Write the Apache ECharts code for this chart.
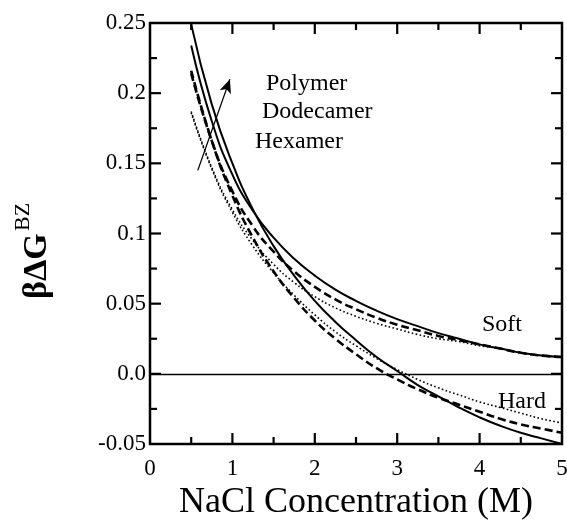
<!DOCTYPE html>
<html>
<head>
	<meta charset="utf-8">
	<title>NaCl chart</title>
	<style>
		html,body{margin:0;padding:0;background:#fff;}
		#main{width:567px;height:525px;}
	</style>
</head>
<body>
	<div id="main"></div>
</body>
<script type="text/javascript" src="https://cdn.jsdelivr.net/npm/echarts@6/dist/echarts.min.js"></script>
<script type="text/javascript">
	// NaCl concentration (M)
	var conc = [0.5,0.75,1,1.25,1.5,1.75,2,2.25,2.5,2.75,3,3.25,3.5,3.75,4,4.25,4.5,4.75,5];
	// soft potential
	var softPolymer   = [0.234,0.180,0.142,0.116,0.097,0.082,0.070,0.060,0.052,0.045,0.039,0.034,0.029,0.025,0.021,0.018,0.015,0.013,0.012];
	var softDodecamer = [0.214,0.166,0.130,0.105,0.087,0.073,0.062,0.053,0.046,0.040,0.035,0.031,0.027,0.024,0.021,0.018,0.015,0.013,0.012];
	var softHexamer   = [0.187,0.147,0.117,0.095,0.078,0.065,0.055,0.047,0.041,0.036,0.032,0.028,0.025,0.023,0.020,0.018,0.015,0.013,0.012];
	// hard potential
	var hardPolymer   = [0.249,0.192,0.150,0.117,0.091,0.070,0.052,0.037,0.024,0.012,0.002,-0.008,-0.016,-0.024,-0.031,-0.037,-0.042,-0.046,-0.050];
	var hardDodecamer = [0.216,0.166,0.127,0.097,0.073,0.054,0.038,0.025,0.014,0.004,-0.004,-0.011,-0.017,-0.022,-0.027,-0.032,-0.036,-0.039,-0.042];
	var hardHexamer   = [0.186,0.146,0.115,0.091,0.072,0.056,0.042,0.030,0.020,0.011,0.003,-0.004,-0.010,-0.015,-0.020,-0.024,-0.028,-0.032,-0.035];

	var xTickLabels = ['0','1','2','3','4','5'];
	var yTickLabels = ['-0.05','0.0','0.05','0.1','0.15','0.2','0.25'];
	var xMajorTicks = [1,2,3,4];
	var xMinorTicks = [0.5,1.5,2.5,3.5,4.5];
	var yMajorTicks = [0,0.05,0.1,0.15,0.2];
	var yMinorTicks = [-0.025,0.025,0.075,0.125,0.175,0.225];
	var arrowFrom = [0.58,0.145];
	var arrowTo = [0.97,0.21];

	var serif = '"Liberation Serif","DejaVu Serif",serif';

	function pairs(ys){
		var out = [];
		for(var i=0;i<conc.length;i++){
			out.push([conc[i],ys[i]]);
		}
		return out;
	}

	function curve(name,ys,kind){
		var ls = {color:'#000',width:2,type:'solid'};
		if(kind == 'dash'){ ls.width = 2.6; ls.type = [8,4]; }
		if(kind == 'dot'){ ls.width = 1.6; ls.type = [1.6,2.4]; }
		return {
			name:name,
			type:'line',
			data:pairs(ys),
			smooth:0.5,
			showSymbol:false,
			lineStyle:ls,
			z:3
		};
	}

	// inward ticks on all four sides: [value, side(0 bottom,1 top,2 left,3 right), length]
	var tickData = [];
	function addTicks(list,sides,len){
		for(var i=0;i<list.length;i++){
			for(var j=0;j<sides.length;j++){
				tickData.push([list[i],sides[j],len]);
			}
		}
	}
	addTicks(xMajorTicks,[0,1],11);
	addTicks(xMinorTicks,[0,1],7);
	addTicks(yMajorTicks,[2,3],11);
	addTicks(yMinorTicks,[2,3],7);

	function renderTick(params,api){
		var v = api.value(0), side = api.value(1), len = api.value(2);
		var cs = params.coordSys;
		var x1,y1,x2,y2;
		if(side < 2){
			x1 = x2 = api.coord([v,0])[0];
			if(side == 0){ y1 = cs.y + cs.height; y2 = y1 - len; }
			else { y1 = cs.y; y2 = y1 + len; }
		} else {
			y1 = y2 = api.coord([0,v])[1];
			if(side == 2){ x1 = cs.x; x2 = x1 + len; }
			else { x1 = cs.x + cs.width; x2 = x1 - len; }
		}
		return {type:'line',shape:{x1:x1,y1:y1,x2:x2,y2:y2},style:{stroke:'#000',lineWidth:2.2}};
	}

	var myChart = echarts.init(document.getElementById('main'));

	var option = {
		animation:false,
		grid:{
			left:150,right:5,top:23,bottom:81,
			containLabel:false,
			outerBoundsMode:'none',
			show:true,
			borderColor:'#000',
			borderWidth:2.5,
			backgroundColor:'transparent'
		},
		xAxis:{
			type:'value',
			min:0,
			max:5,
			interval:1,
			axisLine:{show:false},
			axisTick:{show:false},
			splitLine:{show:false},
			axisLabel:{
				margin:13,
				color:'#000',
				fontFamily:serif,
				fontSize:23,
				formatter:function(v){ return xTickLabels[Math.round(v)]; }
			},
			name:'NaCl Concentration (M)',
			nameLocation:'middle',
			nameGap:41,
			nameTextStyle:{color:'#000',fontFamily:serif,fontSize:36}
		},
		yAxis:{
			type:'value',
			min:-0.05,
			max:0.25,
			interval:0.05,
			axisLine:{show:false},
			axisTick:{show:false},
			splitLine:{show:false},
			axisLabel:{
				margin:4,
				color:'#000',
				fontFamily:serif,
				fontSize:23,
				formatter:function(v){ return yTickLabels[Math.round((v + 0.05) / 0.05)]; }
			}
		},
		series:[
			curve('Soft Polymer',softPolymer,'solid'),
			curve('Soft Dodecamer',softDodecamer,'dash'),
			curve('Soft Hexamer',softHexamer,'dot'),
			curve('Hard Polymer',hardPolymer,'solid'),
			curve('Hard Dodecamer',hardDodecamer,'dash'),
			curve('Hard Hexamer',hardHexamer,'dot'),
			{
				type:'custom',
				silent:true,
				z:4,
				data:tickData,
				renderItem:renderTick
			},
			{
				// zero line and the arrow
				type:'line',
				data:[],
				markLine:{
					silent:true,
					animation:false,
					label:{show:false},
					data:[
						[{coord:[0,0],symbol:'none'},{coord:[5,0],symbol:'none'}],
						[{coord:arrowFrom,symbol:'none'},{coord:arrowTo,symbol:'arrow',symbolSize:[9,14]}]
					],
					lineStyle:{color:'#000',width:1.3,type:'solid'}
				}
			}
		],
		graphic:[
			{type:'text',left:266,top:72,style:{text:'Polymer',font:'24px ' + serif,fill:'#000'}},
			{type:'text',left:262,top:100,style:{text:'Dodecamer',font:'24px ' + serif,fill:'#000'}},
			{type:'text',left:255,top:130,style:{text:'Hexamer',font:'24px ' + serif,fill:'#000'}},
			{type:'text',left:482,top:313,style:{text:'Soft',font:'24px ' + serif,fill:'#000'}},
			{type:'text',left:498,top:390,style:{text:'Hard',font:'24px ' + serif,fill:'#000'}},
			{
				type:'group',
				x:54,y:299,
				rotation:Math.PI/2,
				children:[
					{type:'text',x:0,y:0,style:{text:'\u03b2\u0394G',font:'bold 34px ' + serif,fill:'#000',textVerticalAlign:'bottom'}},
					{type:'text',x:68,y:-20,style:{text:'BZ',font:'22px ' + serif,fill:'#000',textVerticalAlign:'bottom'}}
				]
			}
		]
	};
	myChart.setOption(option);
</script>
</html>
